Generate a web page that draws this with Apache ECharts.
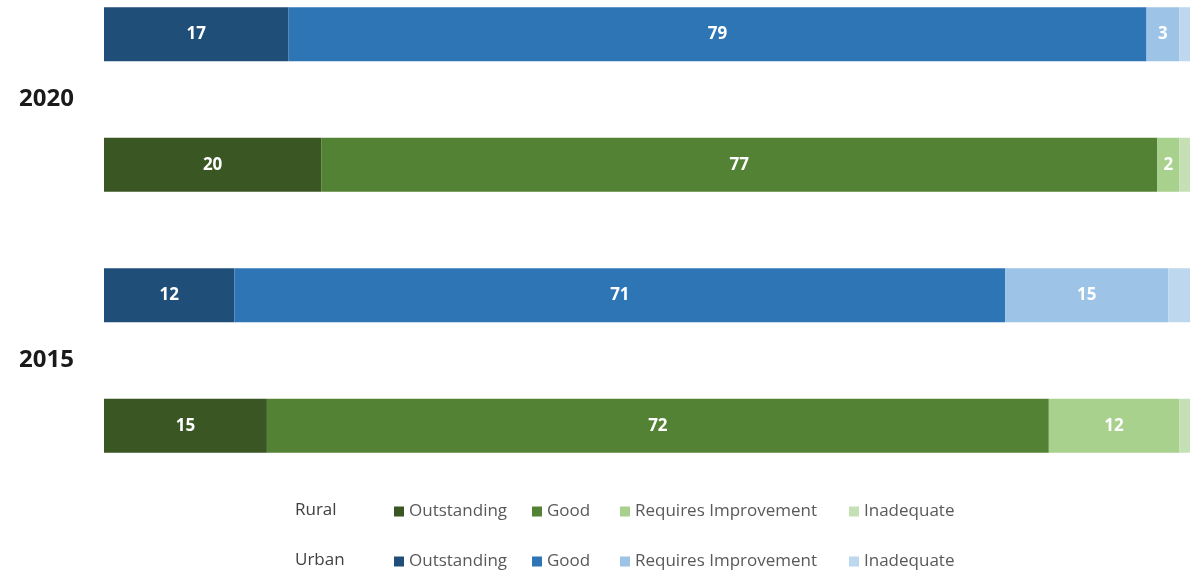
<!DOCTYPE html>
<html><head><meta charset="utf-8">
<script src="https://cdn.jsdelivr.net/npm/echarts@6/dist/echarts.min.js"></script>
<style>html,body{margin:0;padding:0;background:#fff}#c{width:1192px;height:571px}</style>
</head><body><div id="c"></div>
<script>
// Rows, top to bottom
const categories = ['Urban 2020', 'Rural 2020', 'Urban 2015', 'Rural 2015'];
const years = ['2020', '2015'];
const ratings = ['Outstanding', 'Good', 'Requires Improvement', 'Inadequate'];
// values per year: [2020, 2015]
const ruralOutstanding = [20, 15];
const ruralGood = [77, 72];
const ruralRequiresImprovement = [2, 12];
const ruralInadequate = [1, 1];
const urbanOutstanding = [17, 12];
const urbanGood = [79, 71];
const urbanRequiresImprovement = [3, 15];
const urbanInadequate = [1, 2];

const ruralColors = ['#3A5623', '#548235', '#A9D18E', '#C5E0B4'];
const urbanColors = ['#1F4E79', '#2E75B6', '#9DC3E6', '#BDD7EE'];

const ruralSets = [ruralOutstanding, ruralGood, ruralRequiresImprovement, ruralInadequate];
const urbanSets = [urbanOutstanding, urbanGood, urbanRequiresImprovement, urbanInadequate];

function place(vals, group) {
  return categories.map(c => {
    const [g, y] = c.split(' ');
    if (g !== group) return '-';
    return vals[years.indexOf(y)];
  });
}

const series = [];
function addGroup(group, sets, colors) {
  sets.forEach((vals, i) => {
    series.push({
      name: group + ' ' + ratings[i],
      type: 'bar',
      stack: 'total',
      barWidth: 54,
      data: place(vals, group),
      itemStyle: { color: colors[i] },
      label: {
        show: i < 3,
        position: 'inside',
        color: '#fff',
        fontFamily: 'Open Sans',
        fontWeight: 'bold',
        fontSize: 17
      }
    });
  });
}
addGroup('Urban', urbanSets, urbanColors);
addGroup('Rural', ruralSets, ruralColors);

const legendLefts = [394, 532, 620, 849];
const legendTops = { Rural: 503, Urban: 553 };
const legends = [];
['Rural', 'Urban'].forEach(g => {
  ratings.forEach((r, i) => {
    legends.push({
      left: legendLefts[i],
      top: legendTops[g],
      padding: 0,
      icon: 'rect',
      itemWidth: 10,
      itemHeight: 10,
      selectedMode: false,
      data: [g + ' ' + r],
      textStyle: { fontFamily: 'Open Sans', fontSize: 17, color: '#595959' },
      formatter: n => n.replace(/^(Rural|Urban) /, '')
    });
  });
});

const chart = echarts.init(document.getElementById('c'), null, { renderer: 'canvas' });
chart.setOption({
  animation: false,
  backgroundColor: '#fff',
  grid: { left: 104, right: 2, top: -31, bottom: 80, outerBoundsMode: 'none' },
  xAxis: { type: 'value', min: 0, max: 100, show: false },
  yAxis: [
    { type: 'category', data: categories, inverse: true, show: false },
    {
      type: 'category', data: years, inverse: true, position: 'left',
      axisLine: { show: false }, axisTick: { show: false },
      axisLabel: { fontFamily: 'Open Sans', fontWeight: 'bold', fontSize: 24, color: '#1a1a1a', margin: 30, padding: [6, 0, 0, 0] }
    }
  ],
  legend: legends,
  graphic: [
    { type: 'text', left: 295, top: 502, style: { text: 'Rural', font: '17px "Open Sans"', fill: '#404040' } },
    { type: 'text', left: 295, top: 552, style: { text: 'Urban', font: '17px "Open Sans"', fill: '#404040' } }
  ],
  series: series
});
</script>
</body></html>
